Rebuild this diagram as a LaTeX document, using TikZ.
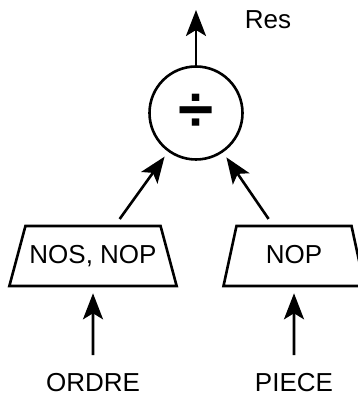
\documentclass[tikz,border=0pt]{standalone}
\usepackage{fontspec}
\setmainfont{Liberation Sans}
\usetikzlibrary{trees,arrows.meta,shapes.geometric}

\begin{document}
\begin{tikzpicture}[x=1pt,y=1pt,line width=2.6pt,
  font=\fontsize{26}{31}\selectfont,
  arw/.style={-{Stealth[length=26pt,width=20pt,inset=6pt]}},
  proj/.style={draw,trapezium,trapezium stretches body,
    text height=19pt,text depth=4pt,inner ysep=18.5pt,inner xsep=4pt},
  edge from parent/.style={draw,{Stealth[length=26pt,width=20pt,inset=6pt]}-},
  level 1/.style={sibling distance=201pt,level distance=143pt},
  level 2/.style={level distance=127pt}]
  \useasboundingbox (0,0) rectangle (358,396);
  \node[draw,circle,minimum size=93pt,inner sep=0pt,
        font=\fontsize{64}{64}\selectfont\bfseries] (div) at (196,283) {÷}
    child[xshift=-2.5pt] {node[proj,trapezium angle=75,minimum width=166pt] (projl) {NOS, NOP}
      edge from parent[shorten <=6pt,shorten >=7pt]
      child {node (ordre) {ORDRE}
        edge from parent[shorten >=14pt]}
    }
    child[xshift=-2.5pt] {node[proj,trapezium angle=77.8,minimum width=141pt] (projr) {NOP}
      edge from parent[shorten <=6pt,shorten >=7pt]
      child {node (piece) {PIECE}
        edge from parent[shorten >=14pt]}
    };
  % sortie du quotient
  \coordinate (out) at (196,386);
  \draw[arw] (div) -- (out);
  \node (res) at (268,376) {Res};
\end{tikzpicture}
\end{document}
